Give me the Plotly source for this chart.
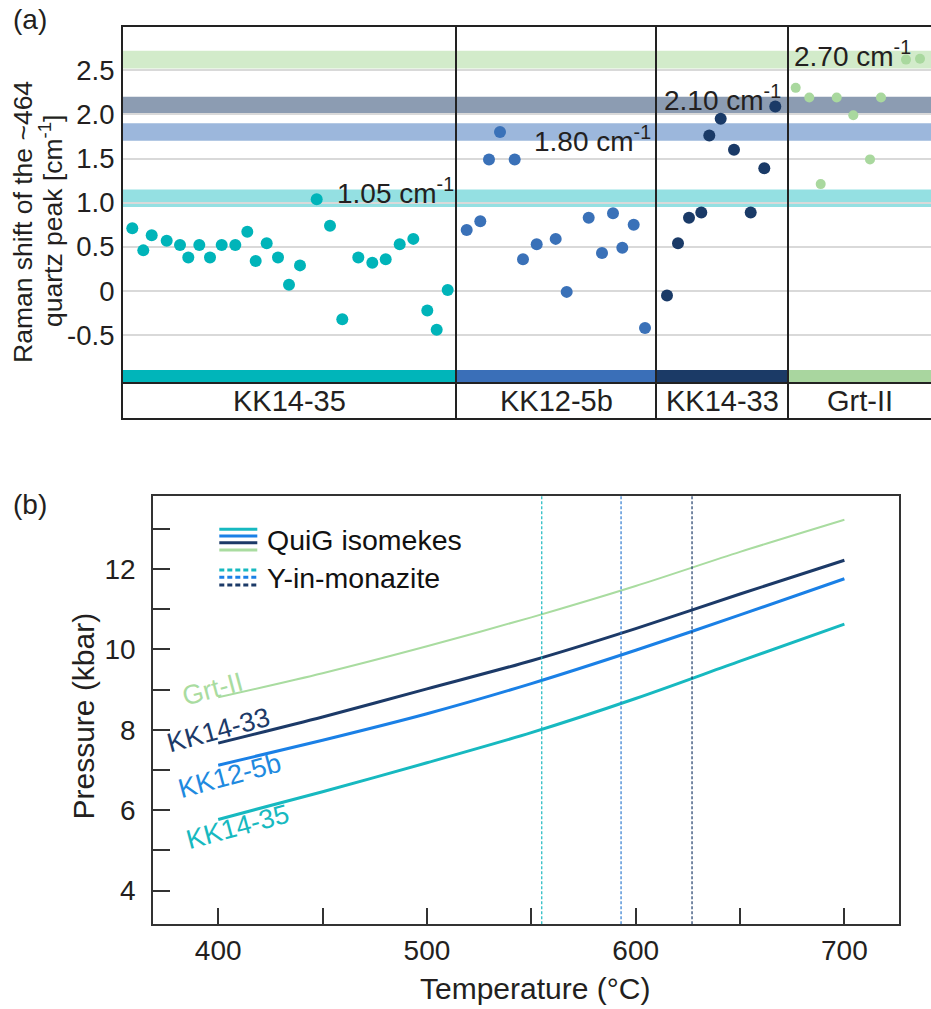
import plotly.graph_objects as go

W, H = 931, 1009
FONT = "Liberation Sans, Arial, Helvetica, sans-serif"
TXT = "#231f20"

# ---------------- data: panel (a) ----------------
groups = ["KK14-35", "KK12-5b", "KK14-33", "Grt-II"]
group_edges = [0, 333, 533, 665, 808]          # spot-position boundaries of each sample block
dot_colors = ["#00B4B9", "#3A71B8", "#1A3A67", "#A9D89E"]
strip_colors = ["#00B5BA", "#3A6FB8", "#1B3A66", "#A9D69F"]
band_colors = ["rgba(0,181,186,0.42)", "rgba(58,112,186,0.50)",
               "rgba(26,58,102,0.50)", "rgba(168,216,154,0.52)"]

kk1435_pos = [9.3, 20.3, 28.7, 43.7, 57, 65.3, 76.3, 87, 98.7, 112.3, 124.3, 132.7, 143.7, 155,
              166, 177, 193.7, 207, 219.3, 235.3, 249.3, 262.7, 276.7, 290.3, 304.3, 313.7, 324.7]
kk1435_shift = [0.71, 0.46, 0.63, 0.57, 0.52, 0.38, 0.52, 0.38, 0.52, 0.52, 0.67, 0.34, 0.54, 0.38,
                0.07, 0.29, 1.04, 0.74, -0.32, 0.38, 0.32, 0.36, 0.53, 0.59, -0.22, -0.44, 0.01]

kk125b_pos = [343.7, 357.3, 366, 377, 391.7, 400, 413.7, 432.7, 443.7, 465.7, 479, 490, 499.3, 510.7, 522]
kk125b_shift = [0.69, 0.79, 1.49, 1.80, 1.49, 0.36, 0.53, 0.59, -0.01, 0.83, 0.43, 0.88, 0.49, 0.75, -0.42]

kk1433_pos = [544, 555, 566, 578.3, 586.3, 597.7, 611, 627.7, 641.3, 652.3]
kk1433_shift = [-0.05, 0.54, 0.83, 0.89, 1.76, 1.95, 1.60, 0.89, 1.39, 2.09]

grt_pos = [672.7, 686.3, 697.7, 713.7, 730.3, 747, 758, 783, 797]
grt_shift = [2.30, 2.19, 1.21, 2.19, 1.99, 1.49, 2.19, 2.62, 2.63]

band_text = ["1.05 cm<sup>-1</sup>", "1.80 cm<sup>-1</sup>", "2.10 cm<sup>-1</sup>", "2.70 cm<sup>-1</sup>"]
band_lo = [0.95, 1.70, 2.00, 2.52]
band_hi = [1.15, 1.90, 2.20, 2.72]

ytick_vals_a = [-0.5, 0, 0.5, 1.0, 1.5, 2.0, 2.5]
ytick_text_a = ["-0.5", "0", "0.5", "1.0", "1.5", "2.0", "2.5"]

# ---------------- data: panel (b) ----------------
temp_C = [400, 450, 500, 550, 600, 650, 700]
P_kk1435 = [5.77, 6.46, 7.18, 7.93, 8.78, 9.71, 10.63]
P_kk125b = [7.12, 7.74, 8.40, 9.15, 9.98, 10.86, 11.76]
P_kk1433 = [7.67, 8.32, 9.02, 9.72, 10.52, 11.38, 12.22]
P_grt = [8.81, 9.41, 10.08, 10.80, 11.58, 12.43, 13.23]
line_colors = ["#17B9C0", "#1A80E6", "#1C3A68", "#A9DCA0"]
label_colors = ["#17B9C0", "#1E8AE0", "#1C3A68", "#A9DCA0"]
monazite_T = [555, 593, 627]          # KK14-35, KK12-5b, KK14-33
monazite_colors = ["#1AB8C0", "#2E7AD0", "#1C3A68"]


def px(x):
    return x / W


def py(y):
    return 1 - y / H


fig = go.Figure()

# panel (a) scatter
series_a = [(kk1435_pos, kk1435_shift), (kk125b_pos, kk125b_shift),
            (kk1433_pos, kk1433_shift), (grt_pos, grt_shift)]
for i, (xs, ys) in enumerate(series_a):
    fig.add_trace(go.Scatter(x=xs, y=ys, mode="markers", xaxis="x", yaxis="y",
                             marker=dict(size=12 if i < 3 else 10, color=dot_colors[i]),
                             showlegend=False, cliponaxis=True, hoverinfo="skip"))

# panel (b) lines
series_b = [P_kk1435, P_kk125b, P_kk1433, P_grt]
for i, ps in enumerate(series_b):
    fig.add_trace(go.Scatter(x=temp_C, y=ps, mode="lines", xaxis="x2", yaxis="y2",
                             line=dict(color=line_colors[i], width=3 if i < 3 else 2, shape="spline",
                                       smoothing=0.8),
                             showlegend=False, hoverinfo="skip"))

shapes = []
annotations = []

# bands
for i in range(4):
    shapes.append(dict(type="rect", xref="x", yref="y", x0=0, x1=808,
                       y0=band_lo[i], y1=band_hi[i], fillcolor=band_colors[i],
                       line=dict(width=0), layer="below"))
# sample strips and label row
STRIP_TOP, STRIP_BOT, ROW_LINE = -0.894, -1.030, -1.042
for i in range(4):
    shapes.append(dict(type="rect", xref="x", yref="y", x0=group_edges[i], x1=group_edges[i + 1],
                       y0=STRIP_BOT, y1=STRIP_TOP, fillcolor=strip_colors[i],
                       line=dict(width=0), layer="above"))
    annotations.append(dict(x=(group_edges[i] + group_edges[i + 1]) / 2, y=-1.245, xref="x", yref="y",
                            text=groups[i], showarrow=False, xanchor="center", yanchor="middle",
                            font=dict(family=FONT, size=29, color=TXT)))
shapes.append(dict(type="line", xref="x", yref="y", x0=0, x1=808, y0=ROW_LINE, y1=ROW_LINE,
                   line=dict(color="#222", width=2), layer="above"))
for e in group_edges[1:4]:
    shapes.append(dict(type="line", xref="x", yref="y", x0=e, x1=e, y0=-1.438, y1=2.989,
                       line=dict(color="#222", width=2), layer="above"))

# band labels
band_lab_x = [212, 408.7, 538.7, 668.7]
band_lab_y = [1.13, 1.72, 2.185, 2.685]
for i in range(4):
    annotations.append(dict(x=band_lab_x[i], y=band_lab_y[i], xref="x", yref="y", text=band_text[i],
                            showarrow=False, xanchor="left", yanchor="middle",
                            font=dict(family=FONT, size=28, color=TXT)))

# panel labels and y title of (a)
annotations.append(dict(x=px(11), y=py(20), xref="paper", yref="paper", text="(a)", showarrow=False,
                        xanchor="left", yanchor="middle", font=dict(family=FONT, size=28, color=TXT)))
annotations.append(dict(x=px(11), y=py(505), xref="paper", yref="paper", text="(b)", showarrow=False,
                        xanchor="left", yanchor="middle", font=dict(family=FONT, size=28, color=TXT)))
annotations.append(dict(x=px(23), y=py(222), xref="paper", yref="paper", text="Raman shift of the ~464",
                        showarrow=False, textangle=-90, xanchor="center", yanchor="middle",
                        font=dict(family=FONT, size=26.5, color=TXT)))
annotations.append(dict(x=px(51), y=py(221), xref="paper", yref="paper",
                        text="quartz peak [cm<sup>-1</sup>]",
                        showarrow=False, textangle=-90, xanchor="center", yanchor="middle",
                        font=dict(family=FONT, size=26.5, color=TXT)))

# panel (b): monazite dashed lines
for T, c in zip(monazite_T, monazite_colors):
    shapes.append(dict(type="line", xref="x2", yref="y2", x0=T, x1=T, y0=3.16, y1=13.82,
                       line=dict(color=c, width=1.2, dash="3px,2px"), layer="above"))

# line labels
lab_names = ["KK14-35", "KK12-5b", "KK14-33", "Grt-II"]
lab_T = [409.0, 405.2, 400.3, 397.4]
lab_P = [5.59, 6.86, 7.99, 9.01]
for i in range(4):
    annotations.append(dict(x=lab_T[i], y=lab_P[i], xref="x2", yref="y2", text=lab_names[i],
                            showarrow=False, textangle=-15, xanchor="center", yanchor="middle",
                            font=dict(family=FONT, size=27, color=label_colors[i])))

# legend
solid_y = [529.3, 536, 542.7, 550]
for yy, c in zip(solid_y, line_colors):
    shapes.append(dict(type="line", xref="paper", yref="paper", x0=px(219.3), x1=px(257.3),
                       y0=py(yy), y1=py(yy), line=dict(color=c, width=3)))
dot_y = [570, 577.3, 585]
for yy, c in zip(dot_y, line_colors[:3]):
    shapes.append(dict(type="line", xref="paper", yref="paper", x0=px(219.3), x1=px(257.3),
                       y0=py(yy), y1=py(yy), line=dict(color=c, width=3, dash="5px,3px")))
annotations.append(dict(x=px(265), y=py(540), xref="paper", yref="paper", text="QuiG isomekes",
                        showarrow=False, xanchor="left", yanchor="middle",
                        font=dict(family=FONT, size=28.5, color="#111")))
annotations.append(dict(x=px(265), y=py(578), xref="paper", yref="paper", text="Y-in-monazite",
                        showarrow=False, xanchor="left", yanchor="middle",
                        font=dict(family=FONT, size=28.5, color="#111")))

# axis titles of (b)
annotations.append(dict(x=px(535), y=py(988), xref="paper", yref="paper", text="Temperature (°C)",
                        showarrow=False, xanchor="center", yanchor="middle",
                        font=dict(family=FONT, size=30, color=TXT)))
annotations.append(dict(x=px(82.5), y=py(716), xref="paper", yref="paper", text="Pressure (kbar)",
                        showarrow=False, textangle=-90, xanchor="center", yanchor="middle",
                        font=dict(family=FONT, size=30, color=TXT)))

fig.update_layout(
    width=W, height=H, margin=dict(l=0, r=0, t=0, b=0),
    paper_bgcolor="white", plot_bgcolor="white",
    font=dict(family=FONT, color=TXT),
    shapes=shapes, annotations=annotations, showlegend=False,
    xaxis=dict(domain=[px(123), 1.0], range=[0, 808], showgrid=False, zeroline=False,
               tickmode="array", tickvals=[], showticklabels=False, ticks="",
               showline=True, mirror=True, linecolor="#222", linewidth=2),
    yaxis=dict(domain=[py(418), py(27)], range=[-1.438, 2.989], tickmode="array",
               tickvals=ytick_vals_a, ticktext=ytick_text_a, showgrid=True, gridcolor="#d9d9d9",
               gridwidth=2, zeroline=False, ticks="", ticklabelstandoff=1, showline=True,
               linecolor="#222", linewidth=2, tickfont=dict(family=FONT, size=27.5, color=TXT)),
    xaxis2=dict(domain=[px(153.3), px(899.3)], range=[368.9, 726.3], anchor="y2",
                tickmode="linear", tick0=400, dtick=100, ticks="inside", ticklen=16,
                tickwidth=1.5, tickcolor="#333",
                minor=dict(dtick=50, ticks="inside", ticklen=16, tickwidth=1.5, tickcolor="#333",
                           showgrid=False),
                showgrid=False, zeroline=False, showline=True,
                mirror=True, linecolor="#333", linewidth=2,
                tickfont=dict(family=FONT, size=28, color=TXT)),
    yaxis2=dict(domain=[py(924.3), py(496)], range=[3.16, 13.82], anchor="x2",
                tickmode="linear", tick0=4, dtick=2, ticks="inside", ticklen=17,
                tickwidth=1.5, tickcolor="#333",
                minor=dict(dtick=1, ticks="inside", ticklen=17, tickwidth=1.5, tickcolor="#333",
                           showgrid=False),
                showgrid=False, zeroline=False, showline=True,
                mirror=True, linecolor="#333", linewidth=2, ticklabelstandoff=10,
                tickfont=dict(family=FONT, size=28, color=TXT)),
)

fig.write_html("out.html")
